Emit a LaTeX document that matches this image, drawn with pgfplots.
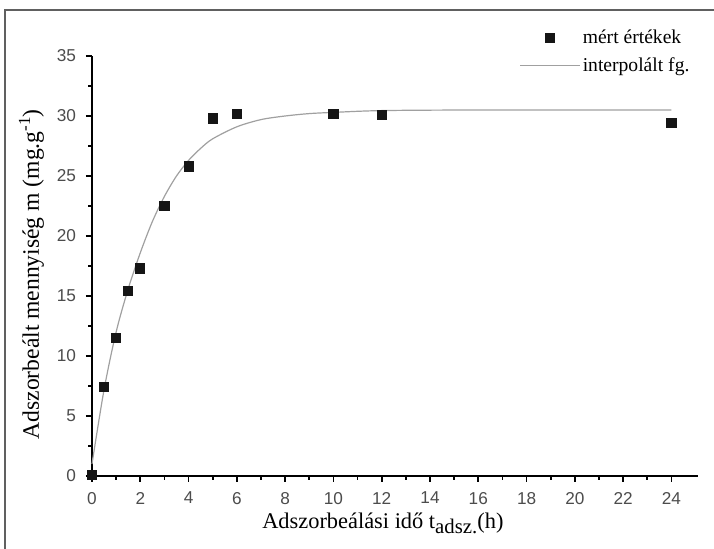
\documentclass[border=0pt]{standalone}
\usepackage{fontspec}
\setmainfont{Liberation Serif}
\newfontfamily\tickfont{Liberation Sans}
\usepackage{pgfplots}
\pgfplotsset{compat=1.18}
\definecolor{curvegray}{HTML}{A0A0A0}
\definecolor{markblack}{HTML}{151515}
\definecolor{framegray}{HTML}{606060}
\begin{document}
\begin{tikzpicture}
\begin{axis}[
  at={(0,0)}, anchor=origin,
  scale only axis,
  width=303pt, height=210pt,
  xmin=0, xmax=25.1, ymin=0, ymax=35,
  axis x line*=bottom, axis y line*=left,
  axis line style={line width=0.9pt, black},
  tick align=outside,
  major tick length=3pt, minor tick length=1.8pt,
  every tick/.style={black, line width=0.9pt},
  xtick={0,2,...,24}, ytick={0,5,...,35},
  minor x tick num=1, minor y tick num=1,
  ticklabel style={font=\tickfont\fontsize{8.6}{9}\selectfont, text=black!70},
  /pgf/number format/assume math mode=true,
  xticklabel style={yshift=-1.5pt},
  yticklabel style={xshift=-1.5pt},
  xlabel={\fontsize{11.2}{13}\selectfont Adszorbeálási idő t\raisebox{-0.45ex}{\fontsize{10.4}{11}\selectfont adsz.}(h)},
  ylabel={\fontsize{11.8}{13}\selectfont Adszorbeált mennyiség m (mg.g\raisebox{0.8ex}{\fontsize{8.5}{9}\selectfont -1})},
  xlabel style={at={(axis description cs:0.48,0)}, anchor=north, yshift=-15pt},
  ylabel style={at={(axis description cs:0,0.48)}, anchor=south, yshift=20.5pt},
  legend style={at={(rel axis cs:0.695,1.078)}, anchor=north west, draw=none, fill=none,
    font=\fontsize{9.8}{11}\selectfont, row sep=3.5pt,
    nodes={inner sep=1pt}},
  legend cell align=left,
  legend image code/.code={\draw[mark repeat=2,mark phase=2,#1] plot coordinates {(0pt,0pt) (15pt,0pt) (30pt,0pt)};},
  clip=false,
]
\addplot[only marks, mark=square*, mark size=2.3pt, markblack, mark options={fill=markblack, draw=markblack}]
coordinates {
(0,0.1) (0.5,7.4) (1,11.5) (1.5,15.4) (2,17.3) (3,22.5) (4,25.8) (5,29.8) (6,30.2) (10,30.2) (12,30.1) (24,29.4)
};
\addlegendentry{mért értékek}
\addplot[curvegray, line width=0.6pt, smooth, tension=0.5]
coordinates {
(0,1.0) (0.5,7.2) (1,12.0) (1.5,15.6) (2,18.6) (2.5,21.2) (3,23.3) (3.5,25.0) (4,26.3) (4.5,27.3) (5,28.1) (6,29.1) (7,29.7) (8,30.0) (9,30.2) (10,30.3) (12,30.45) (16,30.5) (24,30.5)
};
\addlegendentry{interpolált fg.}
\end{axis}
\pgfresetboundingbox
\useasboundingbox (-46pt,-36.5pt) rectangle (311pt,238pt);
\draw[framegray, line width=0.6pt] (-43.5pt,-40pt) -- (-43.5pt,233pt) -- (315pt,233pt);
\end{tikzpicture}
\end{document}
